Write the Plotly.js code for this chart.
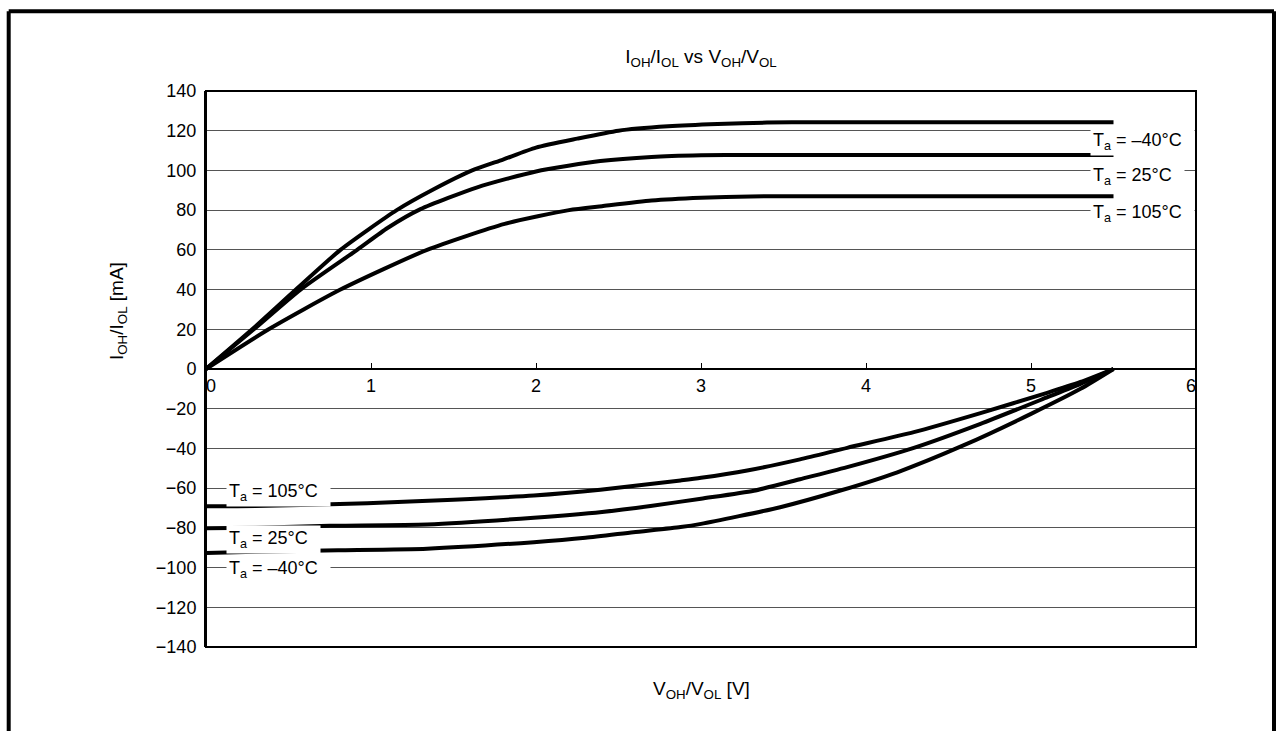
<!DOCTYPE html>
<html>
<head>
<meta charset="utf-8">
<script src="https://cdn.plot.ly/plotly-3.0.1.min.js"></script>
<style>html,body{margin:0;padding:0;background:#fff;}#chart{width:1282px;height:731px;}</style>
</head>
<body>
<div id="chart"></div>
<script>
// Source (I_OH) curves, V_OH [V] vs I_OH [mA]
const xSrcM40 = [0, 0.28, 0.545, 0.815, 1.156, 1.38, 1.613, 1.8, 2.0, 2.25, 2.5, 2.8, 3.1, 3.4, 3.7, 4.0, 4.5, 5.0, 5.5];
const ySrcM40 = [0, 20, 40, 60, 80, 90.5, 100, 105.5, 111.5, 116, 120, 122.2, 123.4, 124.1, 124.3, 124.3, 124.3, 124.3, 124.3];
const xSrc25 = [0, 0.29, 0.573, 0.916, 1.1, 1.3, 1.644, 2.0, 2.39, 2.7, 3.0, 3.3, 3.6, 4.0, 4.5, 5.0, 5.5];
const ySrc25 = [0, 20, 40, 60, 71, 80.5, 91.5, 99.5, 104.7, 106.8, 107.6, 107.8, 107.8, 107.8, 107.8, 107.8, 107.8];
const xSrc105 = [0, 0.38, 0.815, 1.34, 1.81, 2.2, 2.4, 2.7, 3.0, 3.3, 3.6, 4.0, 4.5, 5.0, 5.5];
const ySrc105 = [0, 20, 40, 60, 73.1, 80, 82, 84.8, 86.2, 86.9, 87, 87, 87, 87, 87];
// Sink (I_OL) curves
const xSnk105 = [0, 0.3, 0.977, 1.5, 1.987, 2.39, 2.876, 3.0, 3.28, 3.6, 3.886, 4.29, 4.694, 5.098, 5.3, 5.5];
const ySnk105 = [-69.1, -69, -67.6, -65.8, -63.7, -60.8, -56.1, -54.8, -51.1, -45.5, -39.7, -31.8, -22.2, -12, -6.5, 0];
const xSnk25 = [0, 0.3, 0.75, 1.34, 1.987, 2.4, 2.694, 3.0, 3.32, 3.6, 3.886, 4.29, 4.694, 5.1, 5.3, 5.5];
const ySnk25 = [-80.2, -80, -79, -78.3, -74.9, -72, -69, -65.3, -61.3, -55.5, -49.4, -39.7, -27.6, -14.2, -7.5, 0];
const xSnkM40 = [0, 0.3, 0.8, 1.34, 1.987, 2.3, 2.59, 2.876, 3.0, 3.48, 3.845, 4.19, 4.59, 5.0, 5.3, 5.5];
const ySnkM40 = [-92.7, -92, -91.3, -90.5, -87.2, -85, -82.2, -79.6, -78, -69.6, -61.2, -52, -38.5, -22.6, -10, 0];

const xTickVals = [0, 1, 2, 3, 4, 5, 6];
const xTickText = ['\u00a0\u00a00', '1', '2', '3', '4', '5', '6\u00a0\u00a0'];
const yTickVals = [-140, -120, -100, -80, -60, -40, -20, 0, 20, 40, 60, 80, 100, 120, 140];

const labelsRight = [
  {text: 'T<sub>a</sub> = \u201340\u00b0C', y: 114.8},
  {text: 'T<sub>a</sub> = 25\u00b0C', y: 96.9},
  {text: 'T<sub>a</sub> = 105\u00b0C', y: 78.4}
];
const labelsLeft = [
  {text: 'T<sub>a</sub> = 105\u00b0C', y: -62.3},
  {text: 'T<sub>a</sub> = 25\u00b0C', y: -86.1},
  {text: 'T<sub>a</sub> = \u201340\u00b0C', y: -101.0}
];

const FONT = '"Liberation Sans", Arial, Helvetica, sans-serif';
const lineStyle = {color: '#000', width: 4, shape: 'spline', smoothing: 0.6};

const series = [
  [xSrcM40, ySrcM40], [xSrc25, ySrc25], [xSrc105, ySrc105],
  [xSnk105, ySnk105], [xSnk25, ySnk25], [xSnkM40, ySnkM40]
];
const traces = series.map(s => ({
  x: s[0], y: s[1], type: 'scatter', mode: 'lines',
  line: lineStyle, hoverinfo: 'skip', showlegend: false
}));

const annotations = [];
labelsRight.forEach(l => annotations.push({
  x: 5.36, y: l.y, xref: 'x', yref: 'y', xanchor: 'left', yanchor: 'middle',
  text: l.text + '\u00a0\u00a0', showarrow: false, bgcolor: '#fff', borderpad: 2,
  font: {family: FONT, size: 18, color: '#000'}
}));
labelsLeft.forEach(l => annotations.push({
  x: 0.12, y: l.y, xref: 'x', yref: 'y', xanchor: 'left', yanchor: 'middle',
  text: l.text + '\u00a0\u00a0', showarrow: false, bgcolor: '#fff', borderpad: 2,
  font: {family: FONT, size: 18, color: '#000'}
}));
// axis titles
annotations.push({
  x: 0.5, y: (647 - 690) / 556, xref: 'paper', yref: 'paper', xanchor: 'center', yanchor: 'middle',
  text: 'V<sub>OH</sub>/V<sub>OL</sub> [V]', showarrow: false,
  font: {family: FONT, size: 19, color: '#000'}
});
annotations.push({
  x: (118 - 206) / 990, y: (647 - 311) / 556, xref: 'paper', yref: 'paper', xanchor: 'center', yanchor: 'middle',
  text: 'I<sub>OH</sub>/I<sub>OL</sub> [mA]', showarrow: false, textangle: -90,
  font: {family: FONT, size: 19, color: '#000'}
});

const px = v => (v - 206) / 990;
const py = v => (647 - v) / 556;
const shapes = [
  {type: 'rect', xref: 'paper', yref: 'paper', x0: 0, x1: 1, y0: 0, y1: 1, line: {color: '#000', width: 2}, layer: 'above'},
  {type: 'line', xref: 'paper', yref: 'paper', x0: px(8.7), x1: px(1274), y0: py(11.3), y1: py(11.3), line: {color: '#000', width: 4}},
  {type: 'line', xref: 'paper', yref: 'paper', x0: px(8.7), x1: px(8.7), y0: py(11.3), y1: py(760), line: {color: '#000', width: 4}},
  {type: 'line', xref: 'paper', yref: 'paper', x0: px(1274), x1: px(1274), y0: py(11.3), y1: py(760), line: {color: '#000', width: 4}}
];

const layout = {
  width: 1282, height: 731,
  margin: {l: 206, r: 86, t: 91, b: 84, pad: 0},
  paper_bgcolor: '#fff', plot_bgcolor: '#fff',
  font: {family: FONT, size: 18, color: '#000'},
  title: {
    text: 'I<sub>OH</sub>/I<sub>OL</sub> vs V<sub>OH</sub>/V<sub>OL</sub>',
    x: 0.5, xref: 'paper', xanchor: 'center', y: 1 - 56 / 731, yanchor: 'middle',
    font: {family: FONT, size: 19, color: '#000'}
  },
  xaxis: {
    range: [0, 6], tickvals: xTickVals, ticktext: xTickText,
    anchor: 'free', position: 0.5,
    showgrid: false, zeroline: false,
    showline: true, linecolor: '#000', linewidth: 2,
    ticks: 'inside', ticklen: 5, tickcolor: '#000', tickwidth: 1,
    tickfont: {family: FONT, size: 18, color: '#000'}, fixedrange: true
  },
  yaxis: {
    range: [-140, 140], tickvals: yTickVals,
    showgrid: true, gridcolor: '#555', gridwidth: 1,
    zeroline: true, zerolinecolor: '#000', zerolinewidth: 2,
    showline: true, linecolor: '#000', linewidth: 2,
    ticks: '', ticklabelstandoff: 4,
    tickfont: {family: FONT, size: 18, color: '#000'}, fixedrange: true
  },
  annotations: annotations,
  shapes: shapes,
  showlegend: false
};

Plotly.newPlot('chart', traces, layout, {displayModeBar: false, staticPlot: true});
</script>
</body>
</html>
